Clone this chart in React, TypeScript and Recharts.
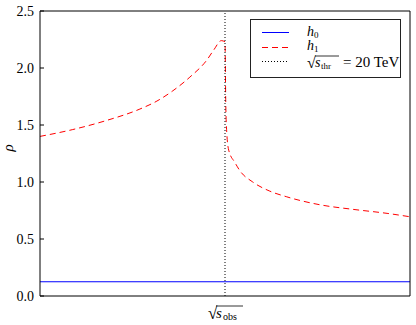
import React from 'react';
import { ComposedChart, Line, XAxis, YAxis, ReferenceLine } from 'recharts';

// x positions are fractions of the observed-energy axis; threshold sits at 0.5
const obsPositions = [0, 0.0885, 0.18, 0.27, 0.316, 0.359, 0.405, 0.451, 0.47, 0.49, 0.5, 0.502, 0.505, 0.51, 0.527, 0.54, 0.575, 0.621, 0.667, 0.757, 0.846, 0.938, 1];
const h1Values = [1.40, 1.46, 1.54, 1.64, 1.71, 1.80, 1.92, 2.07, 2.16, 2.24, 2.23, 1.7, 1.42, 1.28, 1.17, 1.10, 1.00, 0.92, 0.87, 0.80, 0.76, 0.725, 0.695];
const h0Positions = [0, 1];
const h0Values = [0.125, 0.125];
const thresholdPosition = 0.5;
const yTicks = [0, 0.5, 1.0, 1.5, 2.0, 2.5];
const xTicks = [0.5];

const h1Data = obsPositions.map((x, i) => ({ x, h1: h1Values[i] }));
const h0Data = h0Positions.map((x, i) => ({ x, h0: h0Values[i] }));

const FONT = '"Liberation Serif", "DejaVu Serif", serif';

const XTick = (props: any) => {
  const { x, y } = props;
  const by = y + 14;
  return (
    <g>
      <text x={x - 17} y={by + 1} fontFamily={FONT} fontSize={17} fill="#000">√</text>
      <line x1={x - 9} x2={x + 18} y1={by - 12} y2={by - 12} stroke="#000" strokeWidth={0.8} />
      <text x={x - 9} y={by} fontFamily={FONT} fontSize={15} fontStyle="italic" fill="#000">s</text>
      <text x={x - 2} y={by + 2} fontFamily={FONT} fontSize={10} fill="#000">obs</text>
    </g>
  );
};

const Legend = () => (
  <svg width={416} height={325} style={{ position: 'absolute', left: 0, top: 0, pointerEvents: 'none' }}>
    <rect x={250.5} y={19.5} width={150} height={58} fill="#fff" stroke="#222" strokeWidth={1} />
    <line x1={262} x2={289} y1={32.5} y2={32.5} stroke="#0000ff" strokeWidth={1} />
    <text x={307} y={36} fontFamily={FONT} fontSize={14} fontStyle="italic" fill="#000">h</text>
    <text x={314} y={38} fontFamily={FONT} fontSize={9} fill="#000">0</text>
    <line x1={262} x2={289} y1={47.5} y2={47.5} stroke="#ff0000" strokeWidth={1} strokeDasharray="6 4" />
    <text x={307} y={50} fontFamily={FONT} fontSize={14} fontStyle="italic" fill="#000">h</text>
    <text x={314} y={52} fontFamily={FONT} fontSize={9} fill="#000">1</text>
    <text x={307} y={68} fontFamily={FONT} fontSize={16} fill="#000">√</text>
    <line x1={315} x2={339} y1={56} y2={56} stroke="#000" strokeWidth={0.8} />
    <text x={315} y={67} fontFamily={FONT} fontSize={14} fontStyle="italic" fill="#000">s</text>
    <text x={321} y={69} fontFamily={FONT} fontSize={9} fill="#000">thr</text>
    <text x={343} y={67} fontFamily={FONT} fontSize={15} fill="#000">= 20 TeV</text>
    <line x1={262} x2={289} y1={61.5} y2={61.5} stroke="#000" strokeWidth={1} strokeDasharray="1 2" />
  </svg>
);

export default function App() {
  return (
    <div style={{ position: 'absolute', left: 0, top: 0, width: 416, height: 325, background: '#fff' }}>
      <ComposedChart width={416} height={325} margin={{ top: 10, right: 5, bottom: 0, left: 0 }}>
        <XAxis
          xAxisId="main"
          dataKey="x"
          type="number"
          domain={[0, 1]}
          ticks={xTicks}
          tick={<XTick />}
          tickLine={false}
          height={29}
          axisLine={{ stroke: '#000', strokeWidth: 1 }}
          allowDataOverflow
        />
        <XAxis
          xAxisId="top"
          orientation="top"
          dataKey="x"
          type="number"
          domain={[0, 1]}
          ticks={[]}
          tickFormatter={() => ''}
          tickLine={false}
          height={1}
          axisLine={{ stroke: '#000', strokeWidth: 1 }}
        />
        <YAxis
          yAxisId="left"
          type="number"
          domain={[0, 2.5]}
          ticks={yTicks}
          width={40}
          tickSize={-4}
          tickMargin={10}
          tickLine={{ stroke: '#000' }}
          axisLine={{ stroke: '#000', strokeWidth: 1 }}
          tickFormatter={(v: number) => v.toFixed(1)}
          tick={{ fontFamily: FONT, fontSize: 14, fill: '#000' }}
          label={(() => (
            <text x={13} y={148} transform="rotate(-90 13 148)" textAnchor="middle" fontFamily={FONT} fontSize={15} fontStyle="italic" fill="#000">ρ</text>
          )) as any}
        />
        <YAxis
          yAxisId="right"
          orientation="right"
          type="number"
          domain={[0, 2.5]}
          ticks={yTicks}
          width={1}
          tickSize={-4}
          tickMargin={0}
          tickLine={{ stroke: '#000' }}
          axisLine={{ stroke: '#000', strokeWidth: 1 }}
          tickFormatter={() => ''}
        />
        <Line
          xAxisId="main"
          yAxisId="left"
          data={h0Data}
          dataKey="h0"
          type="linear"
          stroke="#0000ff"
          strokeWidth={1}
          dot={false}
          activeDot={false}
          isAnimationActive={false}
        />
        <Line
          xAxisId="main"
          yAxisId="left"
          data={h1Data}
          dataKey="h1"
          type="monotone"
          stroke="#ff0000"
          strokeWidth={1}
          strokeDasharray="6 4"
          dot={false}
          activeDot={false}
          isAnimationActive={false}
        />
        <ReferenceLine
          xAxisId="main"
          yAxisId="left"
          x={thresholdPosition}
          stroke="#000"
          strokeWidth={1}
          strokeDasharray="1 2"
        />
      </ComposedChart>
      <Legend />
    </div>
  );
}
